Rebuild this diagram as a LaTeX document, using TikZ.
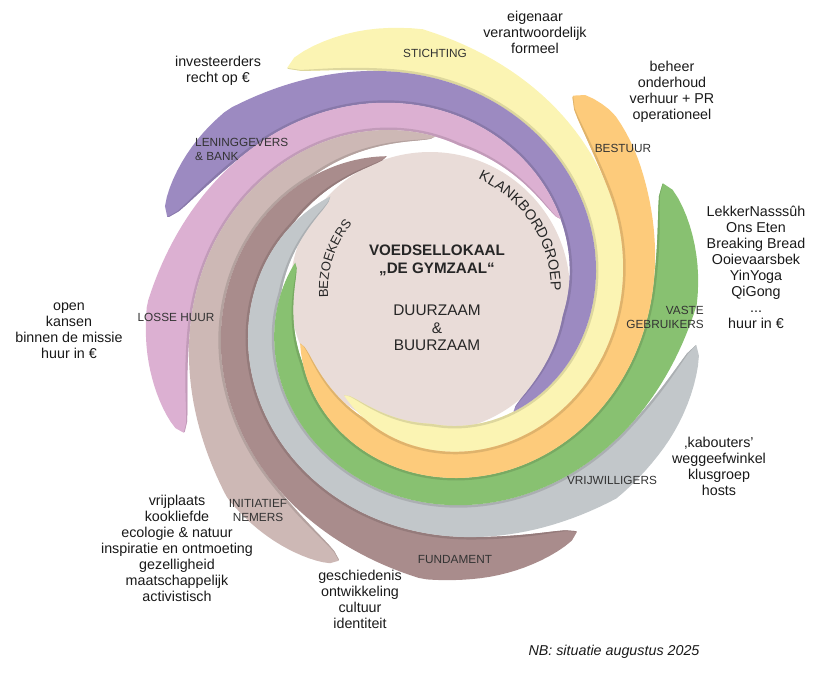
\documentclass[tikz,border=0pt]{standalone}
\usepackage{fontspec}
\setmainfont{Liberation Sans}
\usetikzlibrary{decorations.text}
\definecolor{cStichting}{HTML}{FBF4B3}
\definecolor{cLening}{HTML}{9C8AC1}
\definecolor{cLosse}{HTML}{DCB0D2}
\definecolor{cInit}{HTML}{CDB8B5}
\definecolor{cFundament}{HTML}{A98C8C}
\definecolor{cVrijwillig}{HTML}{C2C7CA}
\definecolor{cVaste}{HTML}{88C171}
\definecolor{cBestuur}{HTML}{FDCB7B}
\definecolor{cKern}{HTML}{E9DCD8}
\tikzstyle{band label} = [font=\fontsize{11.8}{14}\selectfont, text=black!80,
    align=center, inner sep=0pt]
\tikzstyle{note} = [font=\fontsize{14.3}{16}\selectfont, text=black!90,
    align=center, inner sep=0pt]
\tikzset{declare function={
    swirlR(\s) = (\s < 0) ? (275 - 20*\s) : (250 - 26.5*\s + 25*exp(-1.6*\s));
    slotW(\s) = swirlR(\s) - swirlR(\s+1);
    tipCap(\s,\tipS) = sqrt(max(0.0001, 1 - (1 - min(1, max(0, (\s - (\tipS))/0.5)))
        *(1 - min(1, max(0, (\s - (\tipS))/0.5)))));
    tailCap(\s,\endS) = (min(1, max(0.0001, ((\endS) - \s)/1.0)))^0.6;
    outerR(\s,\tipS) = swirlR(\s) - 0.5*slotW(\s)*(1 - tipCap(\s,\tipS));
    innerR(\s,\tipS,\endS) = outerR(\s,\tipS)
        - slotW(\s)*tipCap(\s,\tipS)*tailCap(\s,\endS);
    seamR(\s,\tipS,\endS) = innerR(\s,\tipS,\endS) + 2.5*tipCap(\s,\tipS)*tailCap(\s,\endS);
}}

\begin{document}
\begin{tikzpicture}[x=1pt, y=-1pt]
	\useasboundingbox (0,0) rectangle (829,675);
	\fill[cKern] (430,292) circle[radius=140pt];
	% the eight arms of the swirl, outermost tip first
	\foreach \ang/\tipS/\endS/\col in {270/-0.66/4.9/cStichting,
		225/-0.58/4.1/cLening, 180/-0.63/3.3/cLosse, 135/-0.6/3.1/cInit,
		90/-0.76/3.7/cFundament, 45/-0.81/4.1/cVrijwillig,
		0/-0.59/4.4/cVaste, -45/-0.2/4.6/cBestuur}
	{
		\fill[\col] plot[variable=\s, domain=\tipS:\endS, samples=110]
			({422+outerR(\s,\tipS)*cos(\ang+45*\s)}, {304+outerR(\s,\tipS)*sin(\ang+45*\s)})
			-- plot[variable=\s, domain=\endS:\tipS, samples=110]
			({422+innerR(\s,\tipS,\endS)*cos(\ang+45*\s)},
			 {304+innerR(\s,\tipS,\endS)*sin(\ang+45*\s)}) -- cycle;
		\fill[\col!88!black] plot[variable=\s, domain=\tipS:\endS, samples=110]
			({422+seamR(\s,\tipS,\endS)*cos(\ang+45*\s)},
			 {304+seamR(\s,\tipS,\endS)*sin(\ang+45*\s)})
			-- plot[variable=\s, domain=\endS:\tipS, samples=110]
			({422+innerR(\s,\tipS,\endS)*cos(\ang+45*\s)},
			 {304+innerR(\s,\tipS,\endS)*sin(\ang+45*\s)}) -- cycle;
	}
	% band names
	\node [band label] (Stichting) at (435,53) {STICHTING};
	\node [band label, align=left, anchor=west] (Lening) at (195,149)
		{LENINGGEVERS\\\& BANK};
	\node [band label] (Losse) at (176,317) {LOSSE HUUR};
	\node [band label] (Init) at (258,510) {INITIATIEF\\NEMERS};
	\node [band label] (Fundament) at (455,559) {FUNDAMENT};
	\node [band label] (Vrijwillig) at (612,480) {VRIJWILLIGERS};
	\node [band label, align=right, anchor=east] (Vaste) at (704,317)
		{VASTE\\GEBRUIKERS};
	\node [band label] (Bestuur) at (623,148) {BESTUUR};
	% heart of the swirl
	\node [font=\bfseries\fontsize{15.2}{18}\selectfont, align=center, inner sep=0pt,
		text=black!85] (Kern_title) at (437,260) {VOEDSELLOKAAL\\„DE GYMZAAL“};
	\node [font=\fontsize{15.4}{17.5}\selectfont, align=center, inner sep=0pt,
		text=black!85] (Kern_motto) at (437,328) {DUURZAAM\\\&\\BUURZAAM};
	\path [decorate, decoration={text along path, text align=center,
		text={|\fontsize{14.5}{14}\selectfont\color{black!85}|KLANKBORDGROEP}}]
		plot[domain=-93:27, samples=60] ({430+121*cos(\x)}, {290+121*sin(\x)});
	\path [decorate, decoration={text along path, text align=center,
		text={|\fontsize{13}{13}\selectfont\color{black!85}|BEZOEKERS}}]
		plot[domain=160:236, samples=40] ({430+102*cos(\x)}, {290+102*sin(\x)});
	% what each band stands for
	\node [note] (Stichting_note) at (535,32)
		{eigenaar\\verantwoordelijk\\formeel};
	\node [note] (Bestuur_note) at (672,92)
		{beheer\\onderhoud\\verhuur + PR\\operationeel};
	\node [note] (Vaste_note) at (756,267)
		{LekkerNasssûh\\Ons Eten\\Breaking Bread\\Ooievaarsbek\\YinYoga\\QiGong\\...\\huur in €};
	\node [note] (Lening_note) at (218,71) {investeerders\\recht op €};
	\node [note] (Losse_note) at (69,331)
		{open\\kansen\\binnen de missie\\huur in €};
	\node [note] (Init_note) at (177,548)
		{vrijplaats\\kookliefde\\ecologie \& natuur\\inspiratie en ontmoeting\\gezelligheid\\maatschappelijk\\activistisch};
	\node [note] (Fundament_note) at (360,599)
		{geschiedenis\\ontwikkeling\\cultuur\\identiteit};
	\node [note] (Vrijwillig_note) at (719,466)
		{‚kabouters’\\weggeefwinkel\\klusgroep\\hosts};
	\node [note, font=\itshape\fontsize{14.3}{16}\selectfont] (Stand) at (614,652)
		{NB: situatie augustus 2025};
\end{tikzpicture}
\end{document}
